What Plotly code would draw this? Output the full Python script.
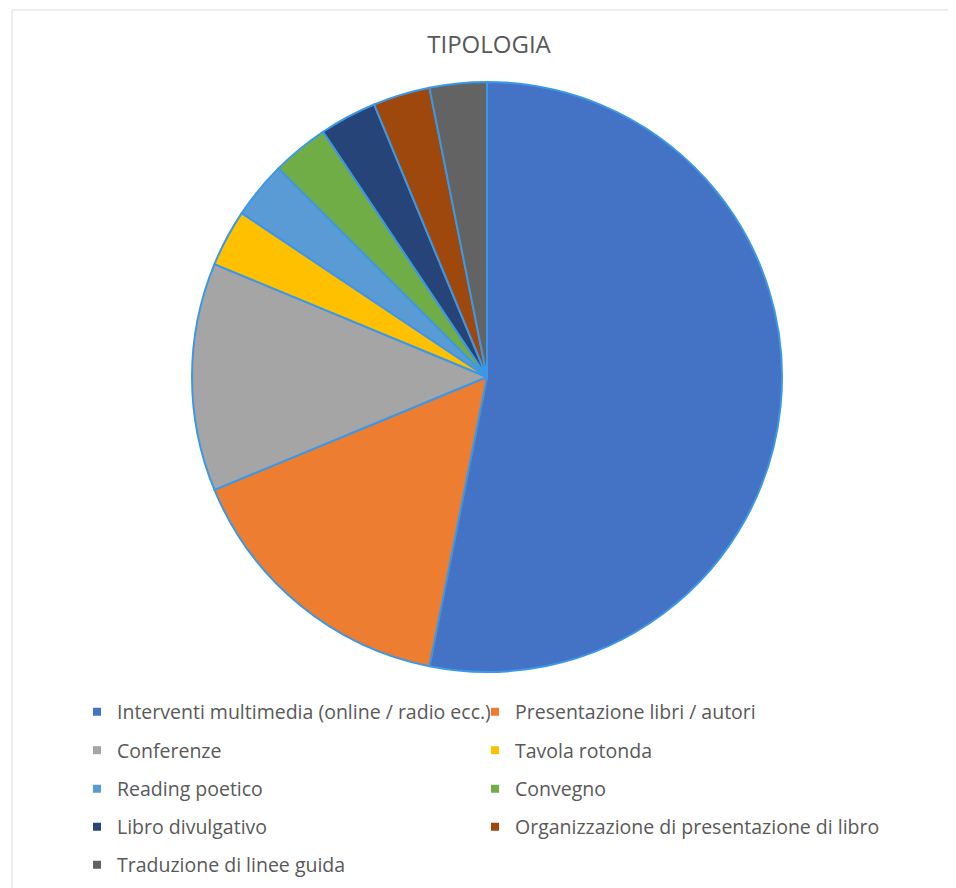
import plotly.graph_objects as go

labels = [
    "Interventi multimedia (online / radio ecc.)",
    "Presentazione libri / autori",
    "Conferenze",
    "Tavola rotonda",
    "Reading poetico",
    "Convegno",
    "Libro divulgativo",
    "Organizzazione di presentazione di libro",
    "Traduzione di linee guida",
]
values = [17, 5, 4, 1, 1, 1, 1, 1, 1]
colors = ["#4472C4", "#ED7D31", "#A5A5A5", "#FFC000", "#5B9BD5",
          "#70AD47", "#264478", "#9E480E", "#636363"]

W, H = 956, 888
OFF = 8  # page body margin
FONT = "Open Sans, Noto Sans, sans-serif"
TXT = "#595959"

fig = go.Figure()
fig.add_trace(go.Pie(
    labels=labels, values=values, sort=False, direction="clockwise", rotation=0,
    marker=dict(colors=colors, line=dict(color="#3c97e6", width=2)),
    textinfo="none", showlegend=False,
    domain=dict(x=[(192 - OFF) / W, (782 - OFF) / W],
                y=[1 - (672 - OFF) / H, 1 - (82 - OFF) / H]),
))

# legend laid out in two columns, one legend per entry
col_x = [77 - OFF, 475 - OFF]
row_y = [712, 750.5, 789, 827, 865]
layout_legends = {}
for i, (lab, col) in enumerate(zip(labels, colors)):
    name = "legend" if i == 0 else f"legend{i + 1}"
    fig.add_trace(go.Scatter(
        x=[None], y=[None], mode="markers", name=lab,
        marker=dict(symbol="square", size=8, color=col),
        legend=name, showlegend=True, hoverinfo="skip",
    ))
    layout_legends[name] = dict(
        x=col_x[i % 2] / W, xanchor="left",
        y=1 - (row_y[i // 2] - OFF) / H, yanchor="middle",
        bgcolor="rgba(0,0,0,0)", borderwidth=0,
        font=dict(family=FONT, size=19.5, color=TXT),
    )

fig.update_layout(
    width=W, height=H,
    margin=dict(l=0, r=0, t=0, b=0),
    paper_bgcolor="white", plot_bgcolor="white",
    xaxis=dict(visible=False), yaxis=dict(visible=False),
    title=dict(text="TIPOLOGIA", x=(489 - OFF) / W, xanchor="center",
               y=1 - (45 - OFF) / H, yanchor="middle",
               font=dict(family=FONT, size=24, color=TXT)),
    shapes=[dict(type="rect", xref="paper", yref="paper",
                 x0=(12 - OFF) / W, x1=(950 - OFF) / W, y0=-0.05, y1=1 - (10 - OFF) / H,
                 line=dict(color="#d9d9d9", width=1), fillcolor="rgba(0,0,0,0)")],
    **layout_legends,
)

fig.write_html("out.html")
